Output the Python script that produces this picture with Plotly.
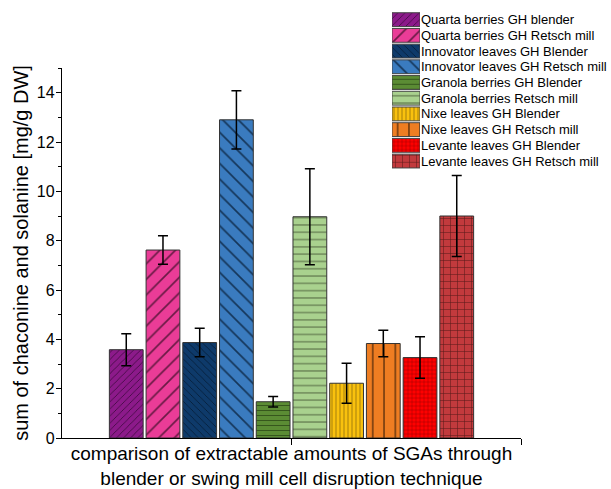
import plotly.graph_objects as go

names = [
    "Quarta berries GH blender",
    "Quarta berries GH Retsch mill",
    "Innovator leaves GH Blender",
    "Innovator leaves GH Retsch mill",
    "Granola berries GH Blender",
    "Granola berries Retsch mill",
    "Nixe leaves GH Blender",
    "Nixe leaves GH Retsch mill",
    "Levante leaves GH Blender",
    "Levante leaves GH Retsch mill",
]
values = [3.58, 7.62, 3.87, 12.9, 1.47, 8.97, 2.22, 3.83, 3.26, 9.0]
errors = [0.65, 0.58, 0.58, 1.18, 0.21, 1.95, 0.81, 0.54, 0.84, 1.64]

colors = ["#8C1A8A", "#EA3C97", "#0E3A6A", "#3A7BBF", "#5B8C34",
          "#A9D18E", "#F9C10E", "#EE7D22", "#FE0000", "#C23A3D"]
fgcolors = ["#3A083A", "#6A1A45", "#051A33", "#15365A", "#2A4516",
            "#5A7048", "#6A5208", "#7A3F10", "#6A0000", "#5A1A1A"]
shapes = ["/", "/", "\\", "\\", "-", "-", "|", "|", "+", "+"]
sizes = [5, 11, 5, 11, 5, 7.3, 4, 11.3, 4, 7]
x_ticks = [0, 0.5]

x_label = "comparison of extractable amounts of SGAs through<br>blender or swing mill cell disruption technique"
y_label = "sum of chaconine and solanine [mg/g DW]"

font = "Liberation Sans, Arial, sans-serif"

fig = go.Figure()
for n, v, e, c, fc, s, sz in zip(names, values, errors, colors, fgcolors, shapes, sizes):
    fig.add_trace(go.Bar(
        x=[0], y=[v], name=n, showlegend=False,
        marker=dict(color=c, line=dict(color="#333333", width=1),
                    pattern=dict(shape=s, size=sz, solidity=0.15,
                                 fgcolor=fc, bgcolor=c, fillmode="replace")),
        error_y=dict(type="data", array=[e], color="black", thickness=1.5, width=5),
    ))

# legend key swatches: one short horizontal bar per series in a small panel
for n, c, fc, s, sz in zip(names, colors, fgcolors, shapes, sizes):
    fig.add_trace(go.Bar(
        x=[1], y=[n], orientation="h", width=0.88, offsetgroup="key",
        xaxis="x2", yaxis="y2", showlegend=False, hoverinfo="skip",
        marker=dict(color=c, line=dict(color="#444444", width=1),
                    pattern=dict(shape=s, size=sz, solidity=0.15,
                                 fgcolor=fc, bgcolor=c, fillmode="replace")),
    ))

W, H = 611, 489
L, R, T, B = 62, 0, 10, 51
pw, ph = W - L - R, H - T - B


def px_x(a, b):
    return [(a - L) / pw, (b - L) / pw]


def px_y(top, bottom):
    return [(H - B - bottom) / ph, (H - B - top) / ph]


fig.update_layout(
    width=W, height=H,
    margin=dict(l=L, r=R, t=T, b=B, autoexpand=False),
    paper_bgcolor="white", plot_bgcolor="white",
    barmode="group", bargap=0.2, bargroupgap=0.08,
    font=dict(family=font, color="black"),
    showlegend=False,
    xaxis=dict(domain=px_x(62, 521), range=[-0.5, 0.5], showline=True,
               linecolor="black", linewidth=1.3,
               tickvals=x_ticks, ticks="outside", ticklen=6, tickcolor="black",
               showticklabels=False, showgrid=False, zeroline=False,
               title=dict(text=x_label, font=dict(size=19), standoff=9)),
    yaxis=dict(domain=px_y(68, 438), range=[0, 15], showline=True,
               linecolor="black", linewidth=1.3,
               dtick=2, tick0=0, ticks="outside", ticklen=5, tickcolor="black",
               tickfont=dict(size=16), showgrid=False, zeroline=False,
               ticklabelstandoff=-2,
               minor=dict(dtick=1, ticks="outside", ticklen=3, tickcolor="black"),
               title=dict(text=y_label, font=dict(size=20), standoff=2)),
    xaxis2=dict(domain=px_x(392, 420), range=[0, 1], anchor="y2",
                visible=False, fixedrange=True),
    yaxis2=dict(domain=px_y(11.8, 168.9), anchor="x2", side="right",
                autorange="reversed", showline=False, showgrid=False,
                zeroline=False, ticks="", tickfont=dict(size=13),
                tickmode="array", tickvals=names, ticktext=names,
                fixedrange=True),
)

fig.write_html("out.html",
               config={"displayModeBar": False},
               post_script="document.body.style.margin='0';document.body.style.overflow='hidden';")
